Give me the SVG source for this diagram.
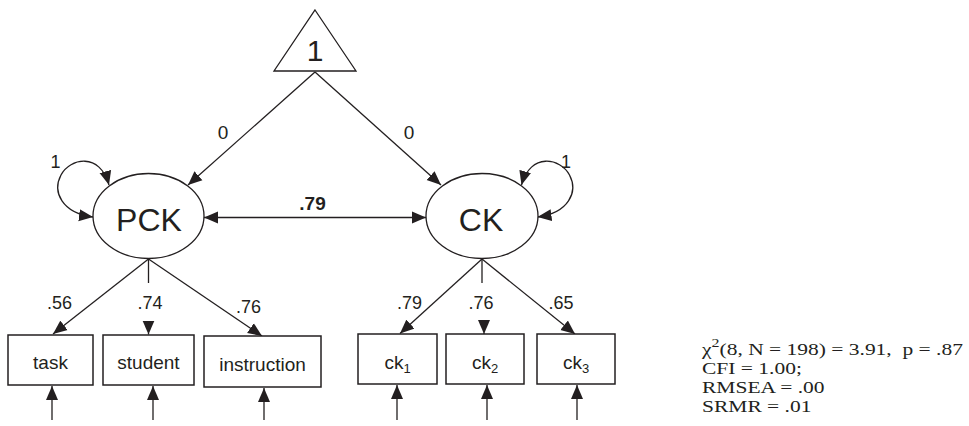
<svg xmlns="http://www.w3.org/2000/svg" width="969" height="426" viewBox="0 0 969 426">
<style>
.ln{fill:none;stroke:#231f20;stroke-width:1.3}
.bx{fill:#fff;stroke:#231f20;stroke-width:1.5}
.t{font-family:"Liberation Sans",Arial,sans-serif;fill:#231f20;text-anchor:middle}
.lab{font-size:18px}
.box{font-size:19px}
.stat{font-family:"Liberation Serif","Times New Roman",serif;font-size:21.5px;fill:#231f20}
</style>
<defs>
<marker id="ah" markerUnits="userSpaceOnUse" markerWidth="15" markerHeight="13" refX="14" refY="6" orient="auto-start-reverse" viewBox="0 0 15 12">
<path d="M0,0 L14,6 L0,12 z" fill="#231f20"/>
</marker>
</defs>
<rect width="969" height="426" fill="#fff"/>

<g id="connectors">
<line class="ln" x1="315" y1="72" x2="188" y2="185" marker-end="url(#ah)"/>
<line class="ln" x1="315" y1="72" x2="441" y2="185" marker-end="url(#ah)"/>
<line class="ln" x1="204" y1="217.5" x2="426" y2="217.5" marker-start="url(#ah)" marker-end="url(#ah)"/>
<path class="ln" d="M93,217 C62,213 52,192 61,175 C70,158 100,152 109,185" marker-start="url(#ah)" marker-end="url(#ah)"/>
<path class="ln" d="M537.5,217 C568.5,213 578.5,192 569.5,175 C560.5,158 530.5,152 521.5,185" marker-start="url(#ah)" marker-end="url(#ah)"/>
<line class="ln" x1="148.5" y1="259" x2="53" y2="334" marker-end="url(#ah)"/>
<line class="ln" x1="148.5" y1="259" x2="148.5" y2="283"/>
<line class="ln" x1="148.5" y1="333" x2="148.5" y2="334.5" marker-end="url(#ah)"/>
<line class="ln" x1="148.5" y1="259" x2="262" y2="336" marker-end="url(#ah)"/>
<line class="ln" x1="482" y1="259" x2="400" y2="333.5" marker-end="url(#ah)"/>
<line class="ln" x1="482" y1="259" x2="482" y2="283"/>
<line class="ln" x1="484" y1="332.5" x2="484" y2="334" marker-end="url(#ah)"/>
<line class="ln" x1="482" y1="259" x2="575" y2="334" marker-end="url(#ah)"/>
<line class="ln" x1="52" y1="420" x2="52" y2="386" marker-end="url(#ah)"/>
<line class="ln" x1="153" y1="420" x2="153" y2="386" marker-end="url(#ah)"/>
<line class="ln" x1="264" y1="420" x2="264" y2="388" marker-end="url(#ah)"/>
<line class="ln" x1="397" y1="420" x2="397" y2="385" marker-end="url(#ah)"/>
<line class="ln" x1="487" y1="420" x2="487" y2="385" marker-end="url(#ah)"/>
<line class="ln" x1="577" y1="420" x2="577" y2="385" marker-end="url(#ah)"/>
<text class="t lab" x="223" y="139" style="font-size:19px">0</text>
<text class="t lab" x="409" y="139" style="font-size:19px">0</text>
<text class="t lab" x="55.5" y="168">1</text>
<text class="t lab" x="566" y="168">1</text>
<text class="t" x="312.5" y="210" style="font-size:19px;font-weight:bold">.79</text>
<text class="t lab" x="59.5" y="309">.56</text>
<text class="t lab" x="150" y="309">.74</text>
<text class="t lab" x="248.5" y="313">.76</text>
<text class="t lab" x="409.5" y="309">.79</text>
<text class="t lab" x="481" y="309">.76</text>
<text class="t lab" x="561" y="309">.65</text>
</g>

<g id="one">
<polygon class="bx" points="315,10 356,71 274,71" style="stroke-width:1.3"/>
<text class="t" x="315" y="61" style="font-size:30px">1</text>
</g>
<g id="PCK">
<ellipse class="bx" cx="148.5" cy="216" rx="55.5" ry="42.5" style="stroke-width:1.3"/>
<text class="t" x="149" y="231" style="font-size:32px">PCK</text>
</g>
<g id="CK">
<ellipse class="bx" cx="482" cy="216" rx="56" ry="42.5" style="stroke-width:1.3"/>
<text class="t" x="481" y="231" style="font-size:32px">CK</text>
</g>
<g id="task">
<rect class="bx" x="8" y="335" width="85" height="50"/>
<text class="t box" x="50.5" y="369">task</text>
</g>
<g id="student">
<rect class="bx" x="103" y="335" width="91" height="50"/>
<text class="t box" x="148.5" y="369">student</text>
</g>
<g id="instruction">
<rect class="bx" x="204" y="336" width="117" height="51"/>
<text class="t box" x="262.5" y="371">instruction</text>
</g>
<g id="ck1">
<rect class="bx" x="358" y="334" width="79" height="50"/>
<text class="t box" x="397.5" y="369">ck<tspan dy="4" style="font-size:13px">1</tspan></text>
</g>
<g id="ck2">
<rect class="bx" x="446" y="334" width="78" height="50"/>
<text class="t box" x="485" y="369">ck<tspan dy="4" style="font-size:13px">2</tspan></text>
</g>
<g id="ck3">
<rect class="bx" x="537" y="334" width="78" height="50"/>
<text class="t box" x="576" y="369">ck<tspan dy="4" style="font-size:13px">3</tspan></text>
</g>
<g id="fit">
<text class="stat" x="702" y="0" transform="matrix(1,0,0,0.8,0,354.5)" xml:space="preserve">χ<tspan dy="-10" style="font-size:16px">2</tspan><tspan dy="10">(8, N = 198) = 3.91,  p = .87</tspan></text>
<text class="stat" x="702" y="0" transform="matrix(1,0,0,0.8,0,373.5)">CFI = 1.00;</text>
<text class="stat" x="702" y="0" transform="matrix(1,0,0,0.8,0,392.5)">RMSEA = .00</text>
<text class="stat" x="702" y="0" transform="matrix(1,0,0,0.8,0,411.5)">SRMR = .01</text>
</g>
</svg>
